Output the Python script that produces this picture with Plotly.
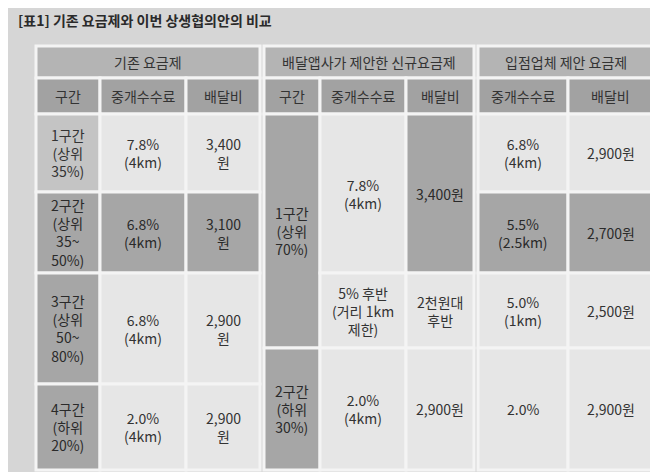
import plotly.graph_objects as go

title = "[표1] 기존 요금제와 이번 상생협의안의 비교"
col_edges = [28, 92, 178, 252, 256, 312, 398, 466, 470, 560, 645]
row_edges = [38, 70, 106, 184, 265, 340, 376, 462]
# cells: (col_start, col_end, row_start, row_end, text, shade)
cells = [
    (0, 3, 0, 1, "기존 요금제", "h1"),
    (4, 7, 0, 1, "배달앱사가 제안한 신규요금제", "h1"),
    (8, 10, 0, 1, "입점업체 제안 요금제", "h1"),
    (0, 1, 1, 2, "구간", "h2"), (1, 2, 1, 2, "중개수수료", "h2"), (2, 3, 1, 2, "배달비", "h2"),
    (4, 5, 1, 2, "구간", "h2"), (5, 6, 1, 2, "중개수수료", "h2"), (6, 7, 1, 2, "배달비", "h2"),
    (8, 9, 1, 2, "중개수수료", "h2"), (9, 10, 1, 2, "배달비", "h2"),
    (0, 1, 2, 3, "1구간<br>(상위<br>35%)", "mid"), (1, 2, 2, 3, "7.8%<br>(4km)", "light"), (2, 3, 2, 3, "3,400<br>원", "light"),
    (0, 1, 3, 4, "2구간<br>(상위<br>35~<br>50%)", "dark"), (1, 2, 3, 4, "6.8%<br>(4km)", "dark"), (2, 3, 3, 4, "3,100<br>원", "dark"),
    (0, 1, 4, 6, "3구간<br>(상위<br>50~<br>80%)", "dark"), (1, 2, 4, 6, "6.8%<br>(4km)", "light"), (2, 3, 4, 6, "2,900<br>원", "light"),
    (0, 1, 6, 7, "4구간<br>(하위<br>20%)", "dark"), (1, 2, 6, 7, "2.0%<br>(4km)", "light"), (2, 3, 6, 7, "2,900<br>원", "light"),
    (4, 5, 2, 5, "1구간<br>(상위<br>70%)", "dark"), (5, 6, 2, 4, "7.8%<br>(4km)", "light"), (6, 7, 2, 4, "3,400원", "dark"),
    (5, 6, 4, 5, "5% 후반<br>(거리 1km<br>제한)", "light"), (6, 7, 4, 5, "2천원대<br>후반", "light"),
    (4, 5, 5, 7, "2구간<br>(하위<br>30%)", "dark"), (5, 6, 5, 7, "2.0%<br>(4km)", "light"), (6, 7, 5, 7, "2,900원", "light"),
    (8, 9, 2, 3, "6.8%<br>(4km)", "light"), (9, 10, 2, 3, "2,900원", "light"),
    (8, 9, 3, 4, "5.5%<br>(2.5km)", "dark"), (9, 10, 3, 4, "2,700원", "dark"),
    (8, 9, 4, 5, "5.0%<br>(1km)", "light"), (9, 10, 4, 5, "2,500원", "light"),
    (8, 9, 5, 7, "2.0%", "light"), (9, 10, 5, 7, "2,900원", "light"),
]
shade_colors = {"h1": "#b4b4b4", "h2": "#a2a2a2", "light": "#e6e6e6", "mid": "#c4c4c4", "dark": "#a6a6a6"}
text_colors = {"h1": "#333333", "h2": "#f2f2f2", "light": "#333333", "mid": "#333333", "dark": "#2a2a2a"}

fig = go.Figure()
fig.add_trace(go.Scatter(x=[0, 658], y=[0, 472], mode="markers", marker=dict(opacity=0), hoverinfo="skip"))
for c0, c1, r0, r1, txt, sh in cells:
    x0, x1 = col_edges[c0], col_edges[c1]
    y0, y1 = row_edges[r0], row_edges[r1]
    fig.add_shape(type="rect", x0=x0, x1=x1, y0=y0, y1=y1, fillcolor=shade_colors[sh],
                  line=dict(color="#f4f4f4", width=3), layer="below")
    fig.add_annotation(x=(x0 + x1) / 2, y=(y0 + y1) / 2, text=txt, showarrow=False,
                       font=dict(size=14, color=text_colors[sh] if sh != "h2" else "#333333"), align="center")
# gap separators between groups
fig.add_annotation(x=8, y=12, xanchor="left", text="<b>" + title + "</b>", showarrow=False,
                   font=dict(size=14, color="#2a2a2a"))
fig.update_layout(width=658, height=472, margin=dict(l=0, r=0, t=0, b=0),
                  paper_bgcolor="#d6d6d6", plot_bgcolor="#d6d6d6", showlegend=False,
                  font=dict(family="Noto Sans CJK KR"),
                  xaxis=dict(range=[0, 658], visible=False, fixedrange=True),
                  yaxis=dict(range=[472, 0], visible=False, fixedrange=True))
fig.write_html("out.html")
